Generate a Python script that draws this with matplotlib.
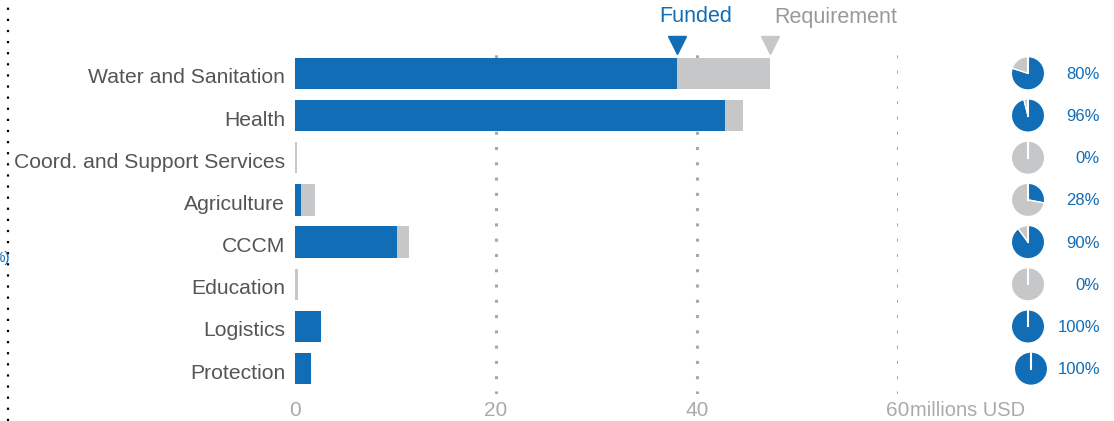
import numpy as np
import matplotlib
matplotlib.use("Agg")
import matplotlib.pyplot as plt
from matplotlib.lines import Line2D
from matplotlib.transforms import ScaledTranslation

plt.rcParams['font.family'] = ['Liberation Sans', 'DejaVu Sans']

# data (millions USD)
sectors = ["Water and Sanitation", "Health", "Coord. and Support Services",
           "Agriculture", "CCCM", "Education", "Logistics", "Protection"]
requirement = [47.3, 44.6, 0.15, 2.0, 11.3, 0.3, 2.6, 1.6]
funded = [38.0, 42.8, 0.0, 0.56, 10.15, 0.0, 2.6, 1.6]
pct_labels = ["80%", "96%", "0%", "28%", "90%", "0%", "100%", "100%"]
pct_values = [80, 96, 0, 28, 90, 0, 100, 100]
xticks = [0, 20, 40, 60]

BLUE = "#116db6"
GREY = "#c6c7c9"
TXT = "#555555"
LIGHT = "#aaaaaa"

W, H = 1114, 421
fig = plt.figure(figsize=(W / 100, H / 100), dpi=100)

# main axes: x 0..60 spans pixel 295..898, rows 42px apart
ax = fig.add_axes([295 / W, 1 - 394 / H, (898 - 295) / W, (394 - 48) / H])
y = np.arange(len(sectors))
ax.barh(y, requirement, height=0.74, color=GREY, zorder=2)
ax.barh(y, funded, height=0.74, color=BLUE, zorder=3)
ax.set_xlim(0, 60)
ax.set_ylim(len(sectors) - 0.4, -0.6)

ax.set_yticks(y)
ax.set_yticklabels(sectors, fontsize=15.2, color=TXT)
ax.set_xticks(xticks)
ax.set_xticklabels([str(t) for t in xticks], fontsize=15, color=LIGHT)
ax.tick_params(length=0)
ax.tick_params(axis='x', pad=5)
ax.tick_params(axis='y', pad=7)
shift = ScaledTranslation(0, -2.5 / 100, fig.dpi_scale_trans)
for lab in ax.get_yticklabels():
    lab.set_transform(lab.get_transform() + shift)
for s in ax.spines.values():
    s.set_visible(False)
for t in xticks[1:]:
    ax.axvline(t, color="#a8a8a8", linestyle=(0, (1, 4)), linewidth=2.2, zorder=1)

fig.text(910 / W, 1 - 411 / H, "millions USD", fontsize=14.5, color=LIGHT,
         va='center', ha='left')

# legend markers on top of first bar
ax.plot([funded[0]], [-0.68], marker='v', markersize=13, color=BLUE,
        clip_on=False, zorder=5)
ax.plot([requirement[0]], [-0.68], marker='v', markersize=13, color=GREY,
        clip_on=False, zorder=5)
fig.text(696 / W, 1 - 17 / H, "Funded", fontsize=15.5, color=BLUE,
         ha='center', va='center')
fig.text(836 / W, 1 - 17 / H, "Requirement", fontsize=15.5, color="#999999",
         ha='center', va='center')

# pies
fig.canvas.draw()
r = 17
for i, p in enumerate(pct_values):
    _, yc = ax.transData.transform((0, i))
    xc = 1028 if i < 7 else 1031
    pax = fig.add_axes([(xc - r) / W, (yc - r) / H, 2 * r / W, 2 * r / H])
    pax.pie([p, 100 - p], colors=[BLUE, GREY], startangle=90, counterclock=False,
            wedgeprops=dict(edgecolor='white', linewidth=1))
    pax.plot([0, 0], [0, 1], color='white', linewidth=1.5)
    pax.set_xlim(-1.02, 1.02)
    pax.set_ylim(-1.02, 1.02)
    pax.set_aspect('equal')
    pax.axis('off')
    fig.text(1100 / W, (yc - 1) / H, pct_labels[i], fontsize=12, color=BLUE,
             ha='right', va='center')

# dotted separator at far left with clipped text
fig.add_artist(Line2D([8 / W, 8 / W], [0, 1], color='black',
                      linestyle=(0, (1, 4)), linewidth=1.6))
fig.text(10 / W, 1 - 258 / H, "%)", fontsize=11, color=BLUE, ha='right', va='center')

fig.savefig("out.png", dpi=100)
